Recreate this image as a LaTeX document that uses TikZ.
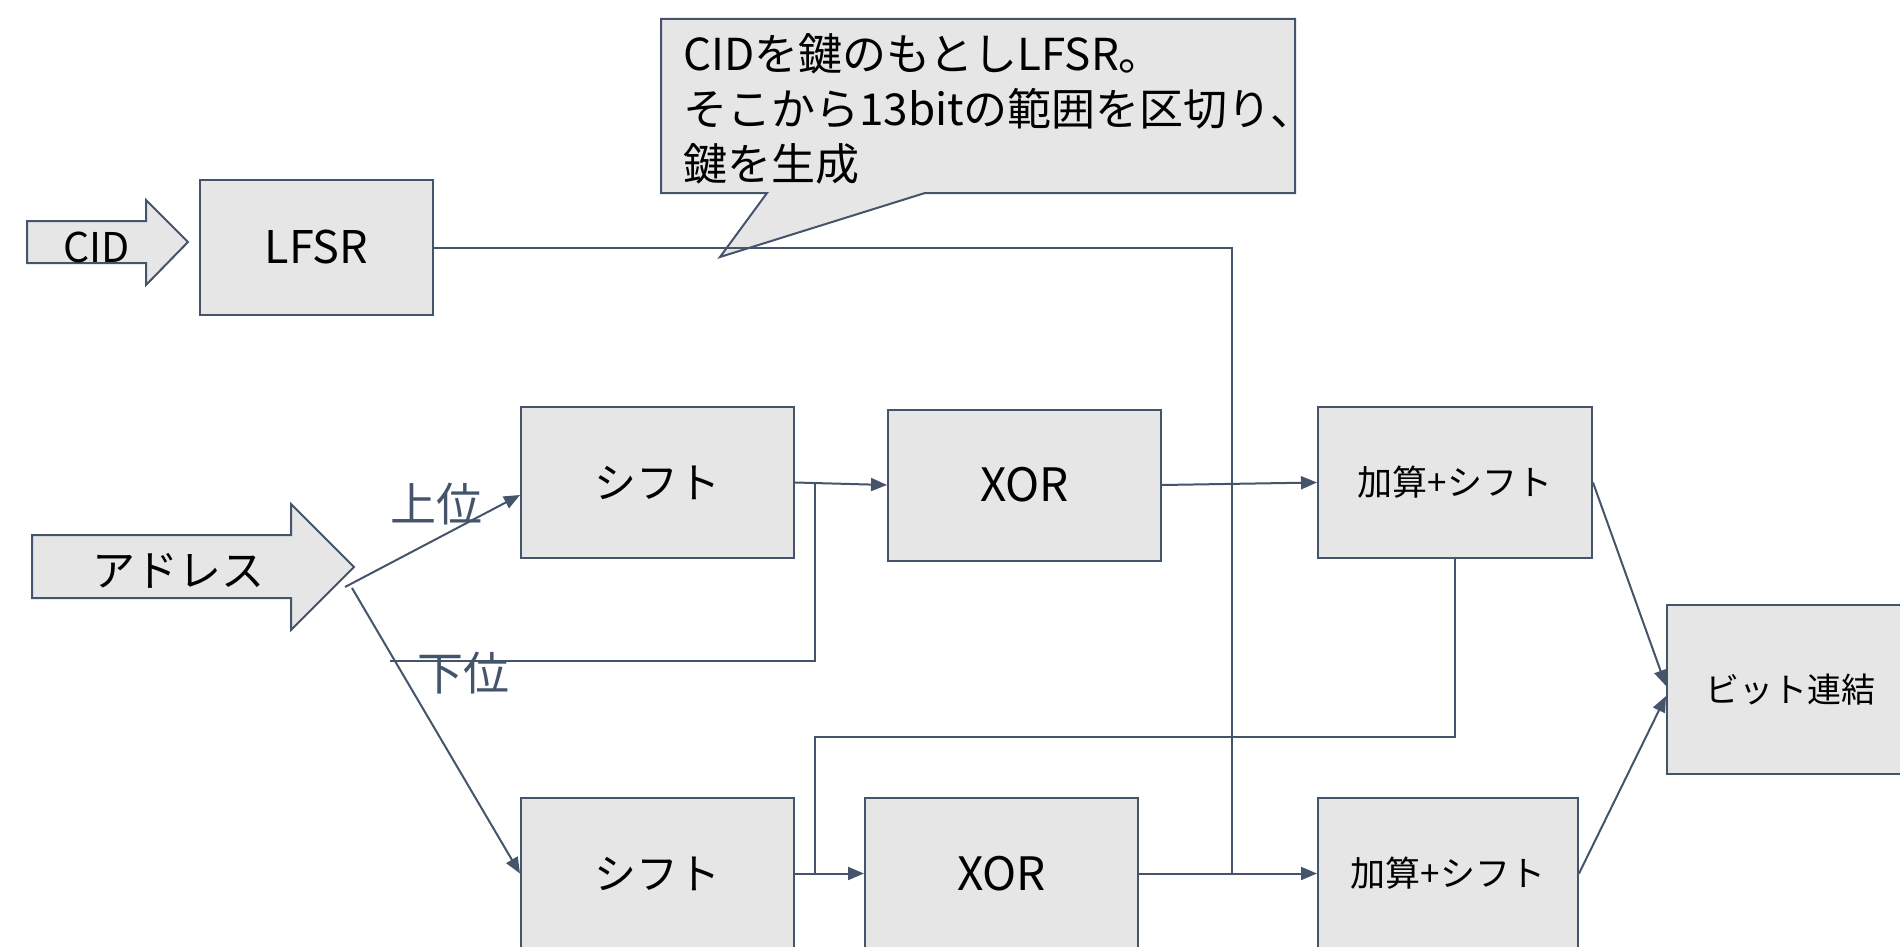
\documentclass[tikz,border=0pt]{standalone}
\usepackage{fontspec}
\setmainfont{Noto Sans CJK JP}
\usetikzlibrary{arrows.meta}
\definecolor{lineC}{HTML}{44546A}
\definecolor{boxC}{HTML}{E6E6E6}
\begin{document}
\begin{tikzpicture}[x=1pt,y=-1pt,
  blk/.style={draw=lineC,fill=boxC,line width=2pt,inner sep=0pt,text=black},
  conn/.style={draw=lineC,line width=2pt},
  arr/.style={conn,-{Triangle[length=16pt,width=13pt]}},
  fs/.style={font=\fontsize{#1}{#1}\selectfont}
]
\useasboundingbox (0,0) rectangle (1900,947);
\clip (0,0) rectangle (1900,947);

% block arrows
\draw[blk] (27,221) -- (146,221) -- (146,200) -- (188,242) -- (146,285) -- (146,263) -- (27,263) -- cycle;
\node[fs=41] (cidtxt) at (97,247) {CID};
\draw[blk] (32,535) -- (291,535) -- (291,504) -- (354,567) -- (291,630) -- (291,598) -- (32,598) -- cycle;
\node[fs=43] (addrtxt) at (178,571) {アドレス};

% callout
\draw[blk] (661,19) -- (1295,19) -- (1295,193) -- (925,193) -- (720,257) -- (767,193) -- (661,193) -- cycle;
\node[font=\fontsize{44}{55}\selectfont, anchor=base west, align=left, inner sep=0pt] (note) at (683,180)
  {CIDを鍵のもとしLFSR。\\そこから13bitの範囲を区切り、\\鍵を生成};

% boxes
\node[blk,fs=45,minimum width=233pt,minimum height=135pt] (lfsr) at (316.5,247.5) {LFSR};
\node[blk,fs=42,minimum width=273pt,minimum height=151pt] (sh1) at (657.5,482.5) {シフト};
\node[blk,fs=46,minimum width=273pt,minimum height=151pt] (xor1) at (1024.5,485) {XOR};
\node[blk,fs=35,minimum width=274pt,minimum height=151pt] (add1) at (1455,482.5) {加算+シフト};
\node[blk,fs=34,minimum width=246pt,minimum height=169pt] (bit) at (1790,689.5) {ビット連結};
\node[blk,fs=42,minimum width=273pt,minimum height=151pt] (sh2) at (657.5,873.5) {シフト};
\node[blk,fs=46,minimum width=273pt,minimum height=151pt] (xor2) at (1001.5,873.5) {XOR};
\node[blk,fs=35,minimum width=260pt,minimum height=151pt] (add2) at (1448,873.5) {加算+シフト};

% connectors
\coordinate (s1) at (345,587);
\coordinate (s2) at (352,588);
\coordinate (lo0) at (390,661);
\coordinate (j1) at (815,482.5);
\coordinate (j2) at (1232,484);
\coordinate (j3) at (1232,873.5);
\coordinate (fb) at (815,737);
\coordinate (j4) at (815,873.5);

\draw[arr] (s1) -- ([yshift=-12.5pt]sh1.west);
\draw[arr] (s2) -- (sh2.west);
\draw[conn] (lo0) -| (j1);
\draw[arr] (sh1.east) -- (xor1.west);
\draw[arr] (xor1.east) -- (add1.west);
\draw[conn] (lfsr.east) -| (j2);
\draw[conn] (lfsr.east) -| (j3);
\draw[conn] (add1.south) |- (fb) -- (j4);
\draw[arr] (sh2.east) -- (xor2.west);
\draw[arr] (xor2.east) -- (add2.west);
\draw[arr] (add1.east) -- ([yshift=3.5pt]bit.west);
\draw[arr] (add2.east) -- ([yshift=-6.5pt]bit.west);

% labels
\node[fs=46,text=lineC] (up) at (436,504) {上位};
\node[fs=46,text=lineC] (lo) at (463,673) {下位};
\end{tikzpicture}
\end{document}
